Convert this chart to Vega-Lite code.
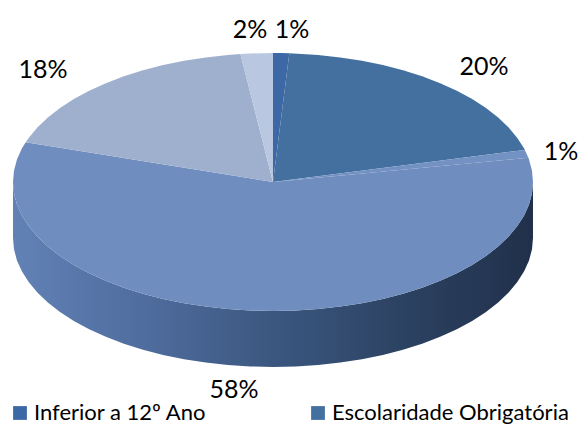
{
"$schema":"https://vega.github.io/schema/vega-lite/v6.json",
"width":580,"height":424,"padding":0,"autosize":{"type":"none"},
"background":"white",
"config":{"view":{"stroke":null}},
"datasets":{
"rim":[
{"x":1,"top":0,"bot":-0.434},{"x":0.9962,"top":-0.0872,"bot":-0.5212},{"x":0.9848,"top":-0.1736,"bot":-0.6076},{"x":0.9659,"top":-0.2588,"bot":-0.6928},{"x":0.9397,"top":-0.342,"bot":-0.776},{"x":0.9063,"top":-0.4226,"bot":-0.8566},{"x":0.866,"top":-0.5,"bot":-0.934},{"x":0.8192,"top":-0.5736,"bot":-1.0076},{"x":0.766,"top":-0.6428,"bot":-1.0768},{"x":0.7071,"top":-0.7071,"bot":-1.1411},{"x":0.6428,"top":-0.766,"bot":-1.2},{"x":0.5736,"top":-0.8192,"bot":-1.2532},{"x":0.5,"top":-0.866,"bot":-1.3},{"x":0.4226,"top":-0.9063,"bot":-1.3403},{"x":0.342,"top":-0.9397,"bot":-1.3737},{"x":0.2588,"top":-0.9659,"bot":-1.3999},{"x":0.1736,"top":-0.9848,"bot":-1.4188},{"x":0.0872,"top":-0.9962,"bot":-1.4302},{"x":0,"top":-1,"bot":-1.434},
{"x":-0.0872,"top":-0.9962,"bot":-1.4302},{"x":-0.1736,"top":-0.9848,"bot":-1.4188},{"x":-0.2588,"top":-0.9659,"bot":-1.3999},{"x":-0.342,"top":-0.9397,"bot":-1.3737},{"x":-0.4226,"top":-0.9063,"bot":-1.3403},{"x":-0.5,"top":-0.866,"bot":-1.3},{"x":-0.5736,"top":-0.8192,"bot":-1.2532},{"x":-0.6428,"top":-0.766,"bot":-1.2},{"x":-0.7071,"top":-0.7071,"bot":-1.1411},{"x":-0.766,"top":-0.6428,"bot":-1.0768},{"x":-0.8192,"top":-0.5736,"bot":-1.0076},{"x":-0.866,"top":-0.5,"bot":-0.934},{"x":-0.9063,"top":-0.4226,"bot":-0.8566},{"x":-0.9397,"top":-0.342,"bot":-0.776},{"x":-0.9659,"top":-0.2588,"bot":-0.6928},{"x":-0.9848,"top":-0.1736,"bot":-0.6076},{"x":-0.9962,"top":-0.0872,"bot":-0.5212},{"x":-1,"top":0,"bot":-0.434}
],
"slices":[
{"s":"Inferior a 12º Ano","i":0,"x":0,"y":0},{"s":"Inferior a 12º Ano","i":1,"x":0,"y":1},{"s":"Inferior a 12º Ano","i":2,"x":0.0314,"y":0.9995},{"s":"Inferior a 12º Ano","i":3,"x":0.0628,"y":0.998},
{"s":"Escolaridade Obrigatória","i":0,"x":0,"y":0},{"s":"Escolaridade Obrigatória","i":1,"x":0.0628,"y":0.998},{"s":"Escolaridade Obrigatória","i":2,"x":0.1736,"y":0.9848},{"s":"Escolaridade Obrigatória","i":3,"x":0.2588,"y":0.9659},{"s":"Escolaridade Obrigatória","i":4,"x":0.342,"y":0.9397},{"s":"Escolaridade Obrigatória","i":5,"x":0.4226,"y":0.9063},{"s":"Escolaridade Obrigatória","i":6,"x":0.5,"y":0.866},{"s":"Escolaridade Obrigatória","i":7,"x":0.5736,"y":0.8192},{"s":"Escolaridade Obrigatória","i":8,"x":0.6428,"y":0.766},{"s":"Escolaridade Obrigatória","i":9,"x":0.7071,"y":0.7071},{"s":"Escolaridade Obrigatória","i":10,"x":0.766,"y":0.6428},{"s":"Escolaridade Obrigatória","i":11,"x":0.8192,"y":0.5736},{"s":"Escolaridade Obrigatória","i":12,"x":0.866,"y":0.5},{"s":"Escolaridade Obrigatória","i":13,"x":0.9063,"y":0.4226},{"s":"Escolaridade Obrigatória","i":14,"x":0.9397,"y":0.342},{"s":"Escolaridade Obrigatória","i":15,"x":0.9659,"y":0.2588},{"s":"Escolaridade Obrigatória","i":16,"x":0.9686,"y":0.2487},
{"s":"Categoria 3","i":0,"x":0,"y":0},{"s":"Categoria 3","i":1,"x":0.9686,"y":0.2487},{"s":"Categoria 3","i":2,"x":0.9823,"y":0.1874},
{"s":"Categoria 4","i":0,"x":0,"y":0},{"s":"Categoria 4","i":1,"x":0.9823,"y":0.1874},{"s":"Categoria 4","i":2,"x":0.9848,"y":0.1736},{"s":"Categoria 4","i":3,"x":0.9962,"y":0.0872},{"s":"Categoria 4","i":4,"x":1,"y":0},{"s":"Categoria 4","i":5,"x":0.9962,"y":-0.0872},{"s":"Categoria 4","i":6,"x":0.9848,"y":-0.1736},{"s":"Categoria 4","i":7,"x":0.9659,"y":-0.2588},{"s":"Categoria 4","i":8,"x":0.9397,"y":-0.342},{"s":"Categoria 4","i":9,"x":0.9063,"y":-0.4226},{"s":"Categoria 4","i":10,"x":0.866,"y":-0.5},{"s":"Categoria 4","i":11,"x":0.8192,"y":-0.5736},{"s":"Categoria 4","i":12,"x":0.766,"y":-0.6428},{"s":"Categoria 4","i":13,"x":0.7071,"y":-0.7071},{"s":"Categoria 4","i":14,"x":0.6428,"y":-0.766},{"s":"Categoria 4","i":15,"x":0.5736,"y":-0.8192},{"s":"Categoria 4","i":16,"x":0.5,"y":-0.866},{"s":"Categoria 4","i":17,"x":0.4226,"y":-0.9063},{"s":"Categoria 4","i":18,"x":0.342,"y":-0.9397},{"s":"Categoria 4","i":19,"x":0.2588,"y":-0.9659},{"s":"Categoria 4","i":20,"x":0.1736,"y":-0.9848},{"s":"Categoria 4","i":21,"x":0.0872,"y":-0.9962},{"s":"Categoria 4","i":22,"x":0,"y":-1},{"s":"Categoria 4","i":23,"x":-0.0872,"y":-0.9962},{"s":"Categoria 4","i":24,"x":-0.1736,"y":-0.9848},{"s":"Categoria 4","i":25,"x":-0.2588,"y":-0.9659},{"s":"Categoria 4","i":26,"x":-0.342,"y":-0.9397},{"s":"Categoria 4","i":27,"x":-0.4226,"y":-0.9063},{"s":"Categoria 4","i":28,"x":-0.5,"y":-0.866},{"s":"Categoria 4","i":29,"x":-0.5736,"y":-0.8192},{"s":"Categoria 4","i":30,"x":-0.6428,"y":-0.766},{"s":"Categoria 4","i":31,"x":-0.7071,"y":-0.7071},{"s":"Categoria 4","i":32,"x":-0.766,"y":-0.6428},{"s":"Categoria 4","i":33,"x":-0.8192,"y":-0.5736},{"s":"Categoria 4","i":34,"x":-0.866,"y":-0.5},{"s":"Categoria 4","i":35,"x":-0.9063,"y":-0.4226},{"s":"Categoria 4","i":36,"x":-0.9397,"y":-0.342},{"s":"Categoria 4","i":37,"x":-0.9659,"y":-0.2588},{"s":"Categoria 4","i":38,"x":-0.9848,"y":-0.1736},{"s":"Categoria 4","i":39,"x":-0.9962,"y":-0.0872},{"s":"Categoria 4","i":40,"x":-1,"y":0},{"s":"Categoria 4","i":41,"x":-0.9962,"y":0.0872},{"s":"Categoria 4","i":42,"x":-0.9848,"y":0.1736},{"s":"Categoria 4","i":43,"x":-0.9659,"y":0.2588},{"s":"Categoria 4","i":44,"x":-0.9511,"y":0.309},
{"s":"Categoria 5","i":0,"x":0,"y":0},{"s":"Categoria 5","i":1,"x":-0.9511,"y":0.309},{"s":"Categoria 5","i":2,"x":-0.9397,"y":0.342},{"s":"Categoria 5","i":3,"x":-0.9063,"y":0.4226},{"s":"Categoria 5","i":4,"x":-0.866,"y":0.5},{"s":"Categoria 5","i":5,"x":-0.8192,"y":0.5736},{"s":"Categoria 5","i":6,"x":-0.766,"y":0.6428},{"s":"Categoria 5","i":7,"x":-0.7071,"y":0.7071},{"s":"Categoria 5","i":8,"x":-0.6428,"y":0.766},{"s":"Categoria 5","i":9,"x":-0.5736,"y":0.8192},{"s":"Categoria 5","i":10,"x":-0.5,"y":0.866},{"s":"Categoria 5","i":11,"x":-0.4226,"y":0.9063},{"s":"Categoria 5","i":12,"x":-0.342,"y":0.9397},{"s":"Categoria 5","i":13,"x":-0.2588,"y":0.9659},{"s":"Categoria 5","i":14,"x":-0.1736,"y":0.9848},{"s":"Categoria 5","i":15,"x":-0.1253,"y":0.9921},
{"s":"Categoria 6","i":0,"x":0,"y":0},{"s":"Categoria 6","i":1,"x":-0.1253,"y":0.9921},{"s":"Categoria 6","i":2,"x":-0.0872,"y":0.9962},{"s":"Categoria 6","i":3,"x":0,"y":1}
],
"labels":[
{"label":"1%","x":0.073,"y":1.178},{"label":"20%","x":0.812,"y":0.891},{"label":"1%","x":1.108,"y":0.233},{"label":"58%","x":-0.15,"y":-1.612},{"label":"18%","x":-0.885,"y":0.868},{"label":"2%","x":-0.088,"y":1.178}
]
},
"layer":[
{"data":{"name":"rim"},
"mark":{"type":"area","color":{"gradient":"linear","x1":0,"x2":1,"y1":0,"y2":0,"stops":[{"offset":0,"color":"#6281b5"},{"offset":0.25,"color":"#4f6d9e"},{"offset":0.5,"color":"#3b5780"},{"offset":0.75,"color":"#2c4262"},{"offset":1,"color":"#20304a"}]}},
"encoding":{
"x":{"field":"x","type":"quantitative","scale":{"domain":[-1.05,1.1808],"nice":false,"zero":false},"axis":null},
"y":{"field":"top","type":"quantitative","scale":{"domain":[-1.876,1.4109],"nice":false,"zero":false},"axis":null},
"y2":{"field":"bot"}}},
{"data":{"name":"slices"},
"mark":{"type":"line","filled":true,"strokeWidth":0},
"encoding":{
"x":{"field":"x","type":"quantitative","scale":{"domain":[-1.05,1.1808],"nice":false,"zero":false},"axis":null},
"y":{"field":"y","type":"quantitative","scale":{"domain":[-1.876,1.4109],"nice":false,"zero":false},"axis":null},
"order":{"field":"i","type":"quantitative"},
"color":{"field":"s","type":"nominal",
"scale":{"domain":["Inferior a 12º Ano","Escolaridade Obrigatória","Categoria 3","Categoria 4","Categoria 5","Categoria 6"],"range":["#3c68a6","#44709f","#7391c2","#6f8dbe","#9fb0cf","#b9c7e0"]},
"legend":{"values":["Inferior a 12º Ano","Escolaridade Obrigatória"],"title":null,"orient":"none","legendX":9,"legendY":402,"columns":2,"columnPadding":100,"symbolType":"square","symbolSize":190,"symbolStrokeWidth":0,"symbolOpacity":1,"labelFont":"Lato","labelFontSize":22,"labelColor":"#000000","labelOffset":3,"labelLimit":320}}}},
{"data":{"name":"labels"},
"mark":{"type":"text","font":"Lato","fontSize":25,"color":"#000000","align":"center","baseline":"middle"},
"encoding":{
"x":{"field":"x","type":"quantitative","scale":{"domain":[-1.05,1.1808],"nice":false,"zero":false},"axis":null},
"y":{"field":"y","type":"quantitative","scale":{"domain":[-1.876,1.4109],"nice":false,"zero":false},"axis":null},
"text":{"field":"label"}}}
]
}
